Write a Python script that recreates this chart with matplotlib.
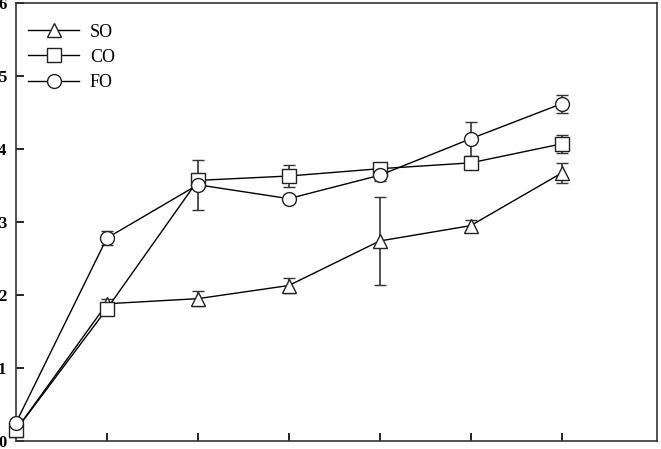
import matplotlib.pyplot as plt
from matplotlib.lines import Line2D

plt.rcParams['font.family'] = ['Liberation Serif', 'DejaVu Serif']

days = [0, 1, 2, 3, 4, 5, 6]

so_mean = [0.15, 1.88, 1.95, 2.13, 2.74, 2.95, 3.67]
so_err = [0.05, 0.06, 0.10, 0.10, 0.60, 0.08, 0.14]

co_mean = [0.15, 1.81, 3.57, 3.63, 3.73, 3.81, 4.07]
co_err = [0.05, 0.05, 0.05, 0.15, 0.05, 0.04, 0.12]

fo_mean = [0.25, 2.78, 3.51, 3.32, 3.64, 4.14, 4.62]
fo_err = [0.05, 0.10, 0.34, 0.05, 0.08, 0.23, 0.12]

series = [
    ('SO', so_mean, so_err, '^'),
    ('CO', co_mean, co_err, 's'),
    ('FO', fo_mean, fo_err, 'o'),
]

fig = plt.figure(figsize=(6.61, 4.49), dpi=100)
ax = fig.add_axes([16 / 661, 8 / 449, 641 / 661, 438 / 449])

style = dict(color='black', markerfacecolor='white', markeredgecolor='#222222',
             markersize=10, markeredgewidth=1.0, linewidth=1.0)

handles = []
for name, mean, err, marker in series:
    ax.errorbar(days, mean, yerr=err, fmt='-', marker=marker,
                ecolor='#333333', elinewidth=1.2, capsize=4, capthick=1.2,
                clip_on=False, zorder=3, **style)
    handles.append(Line2D([], [], marker=marker, label=name, **style))

ax.set_xlim(0, 7.05)
ax.set_ylim(0, 6)
ax.set_xticks([1, 2, 3, 4, 5, 6])
ax.set_xticklabels([])
ax.set_yticks([0, 1, 2, 3, 4, 5, 6])
ax.tick_params(axis='both', direction='in', length=6, width=1.2)
ax.tick_params(axis='y', pad=7)
for lbl in ax.get_yticklabels():
    lbl.set_fontweight('bold')
    lbl.set_fontsize(12)
for sp in ax.spines.values():
    sp.set_linewidth(1.2)
    sp.set_color('#333333')

ax.legend(handles=handles, loc='upper left', frameon=False, fontsize=13,
          bbox_to_anchor=(-0.006, 0.99), handlelength=2.8,
          handletextpad=0.6, labelspacing=0.45, numpoints=1)

fig.savefig('out.png', dpi=100)
